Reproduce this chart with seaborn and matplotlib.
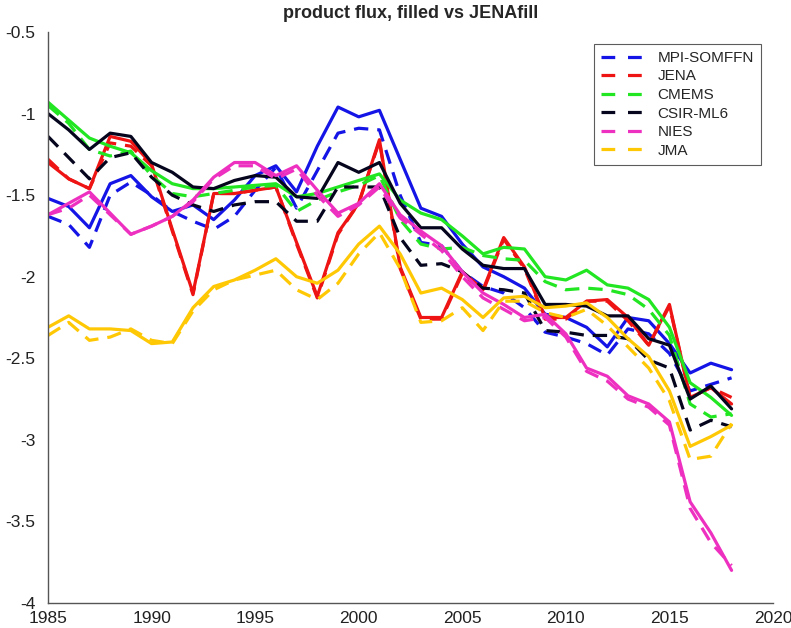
import numpy as np
import pandas as pd
import matplotlib
matplotlib.use("Agg")
import matplotlib.pyplot as plt
import seaborn as sns
from matplotlib.lines import Line2D
from matplotlib.ticker import FormatStrFormatter

years = list(range(1985, 2019))
products = ["MPI-SOMFFN", "JENA", "CMEMS", "CSIR-ML6", "NIES", "JMA"]
colors = ["#1414e6", "#ee1414", "#22e622", "#05051e", "#ee30c0", "#ffc805"]

mpi_filled = [-1.52, -1.57, -1.70, -1.43, -1.38, -1.51, -1.60, -1.56, -1.65, -1.53, -1.38, -1.32, -1.48, -1.20, -0.96, -1.02, -0.98, -1.28, -1.58, -1.63, -1.80, -1.94, -2.00, -2.07, -2.23, -2.25, -2.31, -2.43, -2.25, -2.27, -2.41, -2.59, -2.53, -2.57]
mpi_jfill = [-1.63, -1.68, -1.82, -1.50, -1.42, -1.50, -1.60, -1.66, -1.71, -1.63, -1.47, -1.33, -1.58, -1.35, -1.12, -1.09, -1.10, -1.50, -1.79, -1.81, -1.97, -2.06, -2.10, -2.19, -2.34, -2.37, -2.41, -2.48, -2.32, -2.35, -2.47, -2.70, -2.66, -2.62]
jena_filled = [-1.30, -1.40, -1.46, -1.14, -1.17, -1.31, -1.71, -2.10, -1.49, -1.49, -1.47, -1.45, -1.79, -2.12, -1.73, -1.55, -1.16, -1.94, -2.25, -2.25, -1.97, -2.08, -1.76, -1.94, -2.25, -2.25, -2.15, -2.14, -2.25, -2.42, -2.17, -2.74, -2.68, -2.78]
jena_jfill = [-1.28, -1.40, -1.46, -1.18, -1.20, -1.32, -1.72, -2.11, -1.49, -1.49, -1.47, -1.45, -1.80, -2.13, -1.74, -1.55, -1.17, -1.95, -2.26, -2.26, -1.98, -2.09, -1.77, -1.95, -2.26, -2.26, -2.15, -2.15, -2.27, -2.42, -2.18, -2.74, -2.68, -2.74]
cmems_filled = [-0.93, -1.04, -1.15, -1.20, -1.24, -1.35, -1.43, -1.46, -1.46, -1.45, -1.44, -1.43, -1.51, -1.49, -1.45, -1.41, -1.37, -1.53, -1.61, -1.65, -1.75, -1.86, -1.82, -1.83, -2.00, -2.02, -1.96, -2.05, -2.07, -2.14, -2.31, -2.65, -2.74, -2.85]
cmems_jfill = [-0.95, -1.06, -1.22, -1.26, -1.23, -1.38, -1.49, -1.51, -1.49, -1.47, -1.45, -1.44, -1.60, -1.53, -1.48, -1.44, -1.38, -1.65, -1.80, -1.83, -1.82, -1.87, -1.89, -1.90, -2.03, -2.08, -2.07, -2.08, -2.11, -2.20, -2.36, -2.78, -2.86, -2.84]
csir_filled = [-1.00, -1.10, -1.22, -1.12, -1.14, -1.30, -1.36, -1.45, -1.46, -1.41, -1.38, -1.39, -1.51, -1.52, -1.30, -1.36, -1.30, -1.55, -1.70, -1.70, -1.83, -1.93, -1.95, -1.95, -2.17, -2.17, -2.18, -2.24, -2.24, -2.38, -2.42, -2.75, -2.67, -2.81]
csir_jfill = [-1.14, -1.27, -1.40, -1.27, -1.24, -1.39, -1.50, -1.56, -1.60, -1.56, -1.54, -1.54, -1.66, -1.66, -1.45, -1.45, -1.45, -1.76, -1.93, -1.92, -1.97, -2.07, -2.08, -2.10, -2.33, -2.34, -2.36, -2.36, -2.38, -2.51, -2.56, -2.94, -2.88, -2.92]
nies_filled = [-1.62, -1.55, -1.48, -1.61, -1.74, -1.69, -1.63, -1.53, -1.39, -1.30, -1.30, -1.38, -1.32, -1.47, -1.61, -1.55, -1.43, -1.62, -1.72, -1.81, -1.97, -2.10, -2.17, -2.25, -2.23, -2.35, -2.56, -2.61, -2.73, -2.78, -2.89, -3.38, -3.57, -3.80]
nies_jfill = [-1.62, -1.58, -1.50, -1.62, -1.74, -1.69, -1.63, -1.54, -1.40, -1.32, -1.32, -1.40, -1.34, -1.50, -1.63, -1.56, -1.45, -1.64, -1.74, -1.84, -2.00, -2.13, -2.20, -2.27, -2.25, -2.37, -2.58, -2.64, -2.75, -2.80, -2.91, -3.42, -3.63, -3.77]
jma_filled = [-2.31, -2.24, -2.32, -2.32, -2.33, -2.41, -2.40, -2.19, -2.06, -2.02, -1.96, -1.89, -2.00, -2.04, -1.96, -1.80, -1.69, -1.86, -2.10, -2.07, -2.14, -2.25, -2.13, -2.12, -2.19, -2.18, -2.16, -2.25, -2.38, -2.49, -2.70, -3.04, -2.98, -2.91]
jma_jfill = [-2.36, -2.28, -2.39, -2.37, -2.32, -2.39, -2.41, -2.21, -2.08, -2.02, -1.99, -1.96, -2.08, -2.14, -2.04, -1.86, -1.73, -1.95, -2.28, -2.27, -2.19, -2.33, -2.15, -2.15, -2.22, -2.25, -2.20, -2.30, -2.43, -2.56, -2.76, -3.12, -3.10, -2.90]

filled = [mpi_filled, jena_filled, cmems_filled, csir_filled, nies_filled, jma_filled]
jfill = [mpi_jfill, jena_jfill, cmems_jfill, csir_jfill, nies_jfill, jma_jfill]

sns.set_theme(style="white")
plt.rcParams["font.family"] = ["Liberation Sans", "DejaVu Sans"]

fig = plt.figure(figsize=(7.91, 6.28), dpi=100)
ax = fig.add_axes([48 / 791, 25 / 628, 725 / 791, 571 / 628])

lw = 2.3
for name, col, f, j in zip(products, colors, filled, jfill):
    df_f = pd.DataFrame({"year": years, "flux": f})
    df_j = pd.DataFrame({"year": years, "flux": j})
    sns.lineplot(data=df_f, x="year", y="flux", color=col, linewidth=lw, ax=ax)
    sns.lineplot(data=df_j, x="year", y="flux", color=col, linewidth=lw, ax=ax,
                 dashes=False, linestyle=(0, (4.5, 2.8)))

ax.set_xlim(1985, 2020)
ax.set_ylim(-4, -0.5)
ax.set_xticks(range(1985, 2021, 5))
ax.set_yticks(np.arange(-4, -0.49, 0.5))
ax.yaxis.set_major_formatter(FormatStrFormatter("%g"))
ax.set_xlabel("")
ax.set_ylabel("")
for s in ["top", "right"]:
    ax.spines[s].set_visible(False)
for s in ["left", "bottom"]:
    ax.spines[s].set_color("#555555")
    ax.spines[s].set_linewidth(1.0)
ax.tick_params(axis="both", direction="in", length=5, width=0.8, color="#555555",
               labelsize=12.5, labelcolor="#222222")
ax.tick_params(axis="y", pad=9)
ax.tick_params(axis="x", pad=6)
ax.set_title("product flux, filled vs JENAfill", fontsize=13, fontweight="bold", pad=10)

handles = [Line2D([0], [0], color=c, linewidth=lw, linestyle=(0, (4.3, 4.0))) for c in colors]
leg = ax.legend(handles, products, loc="upper right", bbox_to_anchor=(0.983, 0.979),
                fontsize=11, frameon=True, fancybox=False, handlelength=2.7,
                labelspacing=0.3, borderpad=0.45, handletextpad=1.0, borderaxespad=0)
leg.get_frame().set_edgecolor("#333333")
leg.get_frame().set_linewidth(0.8)

fig.savefig("out.png", dpi=100)
